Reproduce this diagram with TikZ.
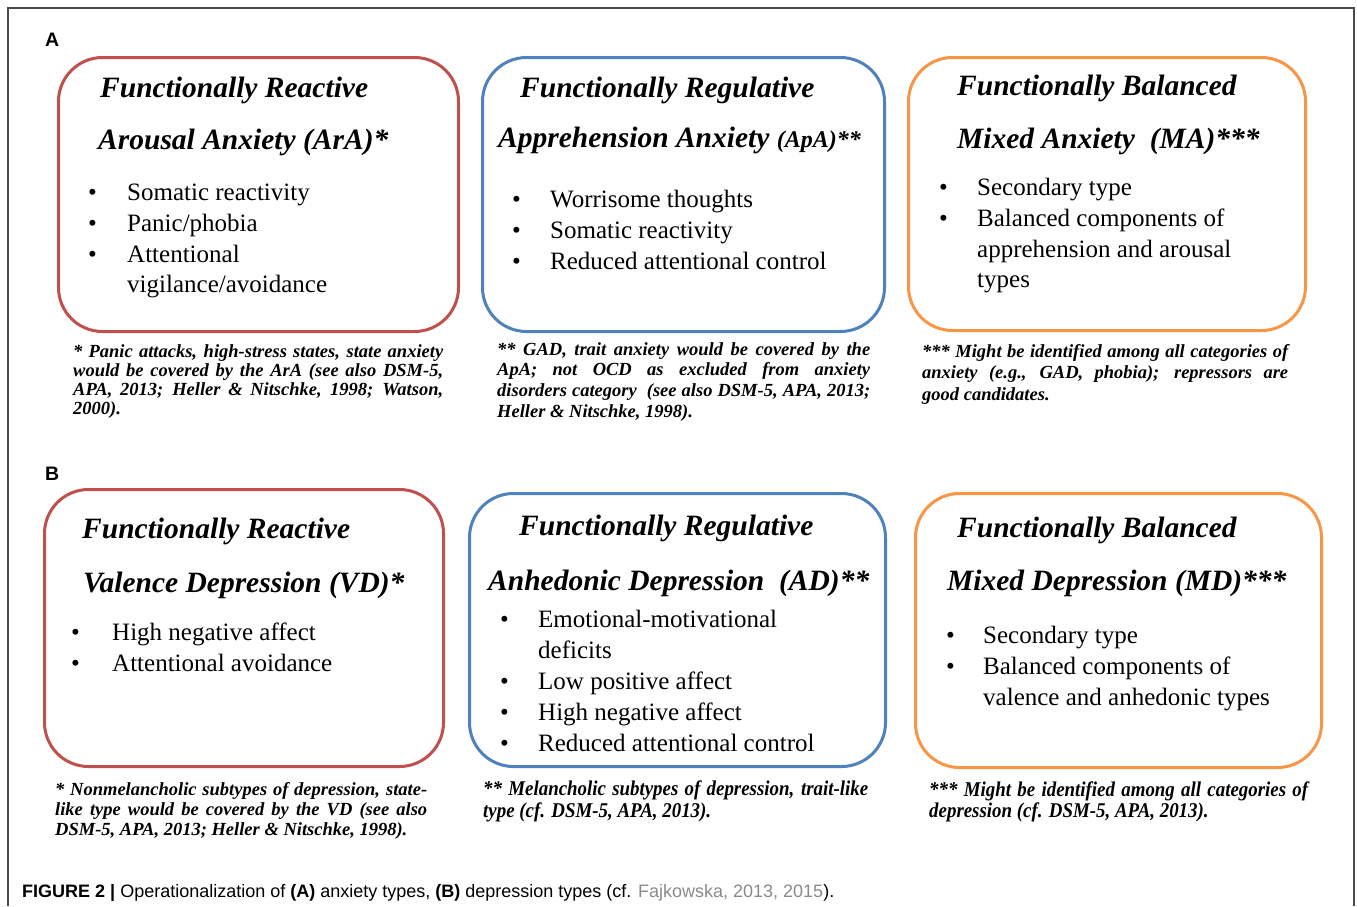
\documentclass[tikz,border=0pt]{standalone}
\usepackage{fontspec}
\setmainfont{Liberation Serif}
\setsansfont{Liberation Sans}
\newfontfamily\condserif[FakeStretch=0.9]{Liberation Serif}

\definecolor{reactred}{HTML}{C0504D}
\definecolor{regblue}{HTML}{4F81BD}
\definecolor{balorange}{HTML}{F79646}
\definecolor{framegray}{HTML}{4A4A4A}
\definecolor{linkgray}{HTML}{8A8A8A}

% one justified line of a note
\newcommand{\fnline}[1]{\makebox[\linewidth][s]{#1}}

\tikzset{
  typebox/.style={draw, line width=3pt, rounded corners=44pt, inner sep=0pt,
                  anchor=north west, fill=none},
  ttl/.style={anchor=base west, inner sep=0pt,
              font=\fontsize{29.5}{30}\selectfont\bfseries\itshape},
  itm/.style={anchor=base west, inner sep=0pt,
              font=\fontsize{25}{26}\selectfont},
  note/.style={anchor=base west, inner sep=0pt,
               font=\bfseries\itshape},
  panel/.style={anchor=base west, inner sep=0pt,
                font=\fontsize{19.5}{20}\selectfont\sffamily\bfseries},
}

\begin{document}
\begin{tikzpicture}[x=1pt,y=-1pt]
\useasboundingbox (0,0) rectangle (1357,906);
\fill[white] (0,0) rectangle (1357,906);

% outer frame, open at the bottom
\draw[framegray, line width=1.3pt] (8,906) -- (8,8) -- (1354,8) -- (1354,906);

% panel letters
\node[panel] (labA) at (45,46) {A};
\node[panel] (labB) at (45,480) {B};

% ---------------- panel A: anxiety types ----------------
\node[typebox, draw=reactred,  minimum width=400pt, minimum height=274pt] (boxA1) at (57,56) {};
\node[typebox, draw=regblue,   minimum width=402pt, minimum height=274pt] (boxA2) at (481,56) {};
\node[typebox, draw=balorange, minimum width=397pt, minimum height=273pt] (boxA3) at (907,56) {};

% reactive arousal anxiety
\node[ttl] (a1t1) at (100,97)  {Functionally Reactive};
\node[ttl] (a1t2) at (98,149)  {Arousal Anxiety (ArA)*};
\node[itm] (a1b1) at (88,200)  {•};
\node[itm] (a1i1) at (127,200) {Somatic reactivity};
\node[itm] (a1b2) at (88,231)  {•};
\node[itm] (a1i2) at (127,231) {Panic/phobia};
\node[itm] (a1b3) at (88,262)  {•};
\node[itm] (a1i3) at (127,262) {Attentional};
\node[itm] (a1i4) at (127,292) {vigilance/avoidance};

% regulative apprehension anxiety
\node[ttl] (a2t1) at (520,97)  {Functionally Regulative};
\node[ttl] (a2t2) at (498,147) {Apprehension Anxiety {\fontsize{24}{25}\selectfont(ApA)**}};
\node[itm] (a2b1) at (512,207) {•};
\node[itm] (a2i1) at (550,207) {Worrisome thoughts};
\node[itm] (a2b2) at (512,238) {•};
\node[itm] (a2i2) at (550,238) {Somatic reactivity};
\node[itm] (a2b3) at (512,269) {•};
\node[itm] (a2i3) at (550,269) {Reduced attentional control};

% balanced mixed anxiety
\node[ttl] (a3t1) at (957,95)  {Functionally Balanced};
\node[ttl] (a3t2) at (957,148) {Mixed Anxiety\ \ (MA)***};
\node[itm] (a3b1) at (939,195) {•};
\node[itm] (a3i1) at (977,195) {Secondary type};
\node[itm] (a3b2) at (939,226) {•};
\node[itm] (a3i2) at (977,226) {Balanced components of};
\node[itm] (a3i3) at (977,257) {apprehension and arousal};
\node[itm] (a3i4) at (977,287) {types};

% notes under panel A
\node[note] (a1note) at (73,357) {\parbox[t]{370pt}{\fontsize{18.5}{19}\selectfont
  \fnline{* Panic attacks, high-stress states, state anxiety}\\
  \fnline{would be covered by the ArA (see also DSM-5,}\\
  \fnline{APA, 2013; Heller \& Nitschke, 1998; Watson,}\\
  2000).}};
\node[note] (a2note) at (497,355) {\parbox[t]{373pt}{\fontsize{18.5}{20.7}\selectfont
  \fnline{** GAD, trait anxiety would be covered by the}\\
  \fnline{ApA; not OCD as excluded from anxiety}\\
  \fnline{disorders category\ \ (see also DSM-5, APA, 2013;}\\
  Heller \& Nitschke, 1998).}};
\node[note] (a3note) at (922,357) {\parbox[t]{366pt}{\fontsize{18.5}{21.5}\selectfont
  \fnline{*** Might be identified among all categories of}\\
  \fnline{anxiety (e.g., GAD, phobia); repressors are}\\
  good candidates.}};

% ---------------- panel B: depression types ----------------
\node[typebox, draw=reactred,  minimum width=399pt, minimum height=277pt] (boxB1) at (43,488) {};
\node[typebox, draw=regblue,   minimum width=416pt, minimum height=273pt] (boxB2) at (468,492) {};
\node[typebox, draw=balorange, minimum width=406pt, minimum height=274pt] (boxB3) at (914,492) {};

% reactive valence depression
\node[ttl] (b1t1) at (82,538)  {Functionally Reactive};
\node[ttl] (b1t2) at (83,592)  {Valence Depression (VD)*};
\node[itm] (b1b1) at (71,640)  {•};
\node[itm] (b1i1) at (112,640) {High negative affect};
\node[itm] (b1b2) at (71,671)  {•};
\node[itm] (b1i2) at (112,671) {Attentional avoidance};

% regulative anhedonic depression
\node[ttl] (b2t1) at (519,535) {Functionally Regulative};
\node[ttl] (b2t2) at (488,590) {Anhedonic Depression\ \ (AD)**};
\node[itm] (b2b1) at (500,627) {•};
\node[itm] (b2i1) at (538,627) {Emotional-motivational};
\node[itm] (b2i2) at (538,658) {deficits};
\node[itm] (b2b3) at (500,689) {•};
\node[itm] (b2i3) at (538,689) {Low positive affect};
\node[itm] (b2b4) at (500,720) {•};
\node[itm] (b2i4) at (538,720) {High negative affect};
\node[itm] (b2b5) at (500,751) {•};
\node[itm] (b2i5) at (538,751) {Reduced attentional control};

% balanced mixed depression
\node[ttl] (b3t1) at (957,537) {Functionally Balanced};
\node[ttl] (b3t2) at (947,590) {Mixed Depression (MD)***};
\node[itm] (b3b1) at (946,643) {•};
\node[itm] (b3i1) at (983,643) {Secondary type};
\node[itm] (b3b2) at (946,674) {•};
\node[itm] (b3i2) at (983,674) {Balanced components of};
\node[itm] (b3i3) at (983,705) {valence and anhedonic types};

% notes under panel B
\node[note] (b1note) at (55,795) {\parbox[t]{372pt}{\fontsize{18.5}{20}\selectfont
  \fnline{* Nonmelancholic subtypes of depression, state-}\\
  \fnline{like type would be covered by the VD (see also}\\
  DSM-5, APA, 2013; Heller \& Nitschke, 1998).}};
\node[note] (b2note) at (483,795) {\parbox[t]{385pt}{\condserif\bfseries\itshape\fontsize{21}{22}\selectfont
  \fnline{** Melancholic subtypes of depression, trait-like}\\
  type (cf. DSM-5, APA, 2013).}};
\node[note] (b3note) at (929,796) {\parbox[t]{379pt}{\condserif\bfseries\itshape\fontsize{21}{21}\selectfont
  \fnline{*** Might be identified among all categories of}\\
  depression (cf. DSM-5, APA, 2013).}};

% figure caption
\node[anchor=base west, inner sep=0pt, font=\sffamily\fontsize{18}{19}\selectfont] (caption) at (22,897)
  {\textbf{FIGURE 2 |} Operationalization of \textbf{(A)} anxiety types, \textbf{(B)} depression types (cf. \textcolor{linkgray}{Fajkowska, 2013, 2015}).};
\end{tikzpicture}
\end{document}
